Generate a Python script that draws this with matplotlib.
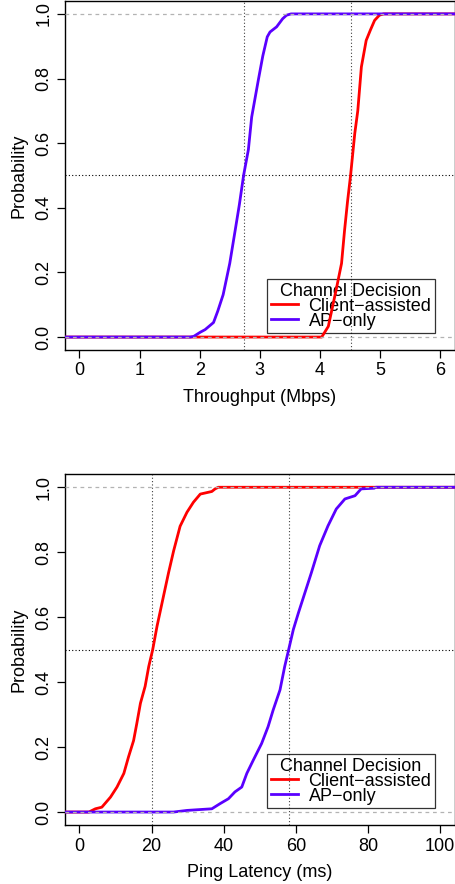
import numpy as np
import matplotlib
matplotlib.use("Agg")
import matplotlib.pyplot as plt

plt.rcParams['font.family'] = ['Liberation Sans', 'DejaVu Sans']

# CDF points (value, cumulative probability) for each channel decision
tput_ap_x = [1.84, 1.90, 2.01, 2.09, 2.23, 2.30, 2.39, 2.50, 2.59, 2.66, 2.73, 2.81, 2.865, 2.975,
             3.05, 3.124, 3.17, 3.28, 3.38, 3.445, 3.52]
tput_ap_p = [0.0, 0.002, 0.015, 0.023, 0.045, 0.08, 0.131, 0.228, 0.33, 0.41, 0.50, 0.58, 0.681, 0.795,
             0.87, 0.929, 0.944, 0.96, 0.985, 0.996, 1.0]
tput_ca_x = [4.03, 4.14, 4.27, 4.36, 4.41, 4.46, 4.51, 4.58, 4.63, 4.69, 4.77, 4.84, 4.91, 4.99, 5.06]
tput_ca_p = [0.0, 0.033, 0.146, 0.228, 0.33, 0.42, 0.50, 0.63, 0.70, 0.836, 0.918, 0.95, 0.98, 0.996, 1.0]

ping_ca_x = [2.6, 4.4, 6.2, 8.6, 10.4, 12.3, 13.6, 15.0, 15.9, 16.9, 18.2, 19.2, 20.3, 21.5, 23.3,
             24.7, 26.1, 27.9, 29.8, 31.6, 33.5, 36.7, 37.6, 38.5]
ping_ca_p = [0.0, 0.01, 0.015, 0.046, 0.077, 0.119, 0.17, 0.22, 0.273, 0.335, 0.387, 0.448, 0.50, 0.572,
             0.665, 0.737, 0.804, 0.88, 0.923, 0.954, 0.979, 0.987, 0.995, 1.0]
ping_ap_x = [26.1, 29.8, 32.5, 36.7, 39.0, 41.3, 43.1, 45.0, 46.4, 48.2, 50.5, 52.3, 53.7, 55.6, 56.9,
             58.0, 59.3, 60.7, 62.5, 64.3, 66.6, 68.9, 71.2, 73.6, 76.4, 78.1, 81.7, 82.2]
ping_ap_p = [0.0, 0.005, 0.007, 0.01, 0.026, 0.041, 0.062, 0.077, 0.119, 0.16, 0.211, 0.263, 0.314,
             0.376, 0.448, 0.50, 0.562, 0.613, 0.675, 0.737, 0.82, 0.881, 0.933, 0.964, 0.974, 0.995,
             0.997, 1.0]

tput_medians = [2.73, 4.51]
ping_medians = [20.2, 58.0]

RED = '#FF0000'
BLUE = '#5A00FF'


def cdf_panel(ax, ca, ap, medians, xmax, xticks, xlabel):
    lo, hi = -0.04 * xmax, 1.04 * xmax
    ax.set_xlim(lo, hi)
    ax.set_ylim(-0.04, 1.04)

    for y in (0, 1):
        ax.axhline(y, color='#B3B3B3', lw=0.9, ls=(0, (3, 3)), zorder=4)
    ax.axhline(0.5, color='black', lw=0.8, ls=(0, (1, 2)), zorder=1)
    for m in medians:
        ax.axvline(m, color='0.25', lw=0.8, ls=(0, (1, 2)), zorder=1)

    for (xs, ps), col, lab in ((ca, RED, 'Client\u2212assisted'), (ap, BLUE, 'AP\u2212only')):
        xs = [lo] + list(xs) + [hi]
        ps = [0.0] + list(ps) + [1.0]
        ax.plot(xs, ps, color=col, lw=2.0, label=lab, zorder=3)

    ax.set_xticks(xticks)
    ax.set_xticklabels([str(t) for t in xticks])
    ax.set_yticks([0, 0.2, 0.4, 0.6, 0.8, 1.0])
    ax.set_yticklabels(['0.0', '0.2', '0.4', '0.6', '0.8', '1.0'], rotation=90, va='center')
    ax.tick_params(direction='out', length=6, width=0.9, labelsize=13, pad=3)
    ax.set_xlabel(xlabel, fontsize=13, labelpad=7)
    ax.set_ylabel('Probability', fontsize=13, labelpad=6)
    for s in ax.spines.values():
        s.set_linewidth(1.0)

    leg = ax.legend(title='Channel Decision', loc='lower right', bbox_to_anchor=(0.95, 0.048),
                    fontsize=13, title_fontsize=13, frameon=True, fancybox=False,
                    edgecolor='black', labelspacing=-0.12,
                    handlelength=1.5, handletextpad=0.6, borderpad=0.2, borderaxespad=0)
    frame = leg.get_frame()
    frame.set_facecolor('none')
    frame.set_linewidth(0.9)
    leg.set_zorder(2)


fig = plt.figure(figsize=(4.55, 8.84), dpi=100)
ax1 = fig.add_axes([0.143, 0.6041, 0.856, 0.3948])
ax2 = fig.add_axes([0.143, 0.0667, 0.856, 0.3968])

cdf_panel(ax1, (tput_ca_x, tput_ca_p), (tput_ap_x, tput_ap_p), tput_medians, 6,
          [0, 1, 2, 3, 4, 5, 6], 'Throughput (Mbps)')
cdf_panel(ax2, (ping_ca_x, ping_ca_p), (ping_ap_x, ping_ap_p), ping_medians, 100,
          [0, 20, 40, 60, 80, 100], 'Ping Latency (ms)')

fig.savefig('out.png', dpi=100)
